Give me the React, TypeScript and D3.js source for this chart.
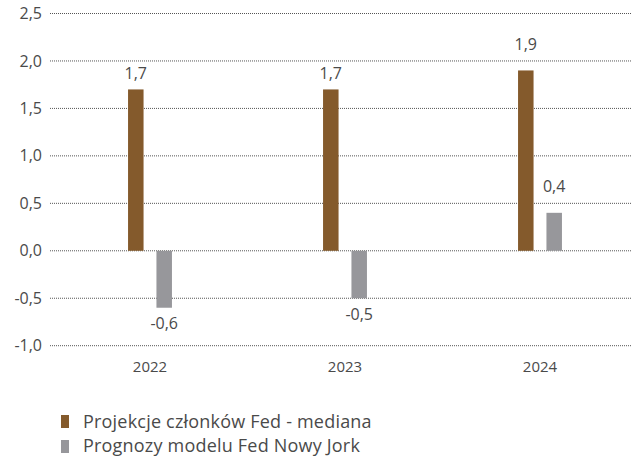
import React from "react";
import * as d3 from "d3";

const years = ["2022", "2023", "2024"];
const fedMedian = [1.7, 1.7, 1.9];
const nyModel = [-0.6, -0.5, 0.4];
const yTicks = [-1.0, -0.5, 0.0, 0.5, 1.0, 1.5, 2.0, 2.5];
const seriesNames = ["Projekcje członków Fed - mediana", "Prognozy modelu Fed Nowy Jork"];
const seriesColors = ["#845a2c", "#97979b"];

const W = 632;
const H = 457;
const fmt = (v: number) => v.toFixed(1).replace(".", ",");

export default function App() {
  const y = d3.scaleLinear().domain([-1, 2.5]).range([345.7, 13.5]);
  const x = d3.scaleBand<string>().domain(years).range([52.5, 637.5]);
  const barW = 15.5;
  const offset = 14.2;
  const font = "'Open Sans', 'Noto Sans', sans-serif";
  const series = [fedMedian, nyModel];

  // keep value labels clear of the dotted gridlines
  const labelY = (v: number) => {
    const dir = v >= 0 ? -1 : 1;
    let ly = y(v) + dir * 16;
    const near = yTicks.map((t) => y(t)).find((g) => Math.abs(g - ly) < 9);
    if (near !== undefined) ly = near + dir * 17;
    return ly;
  };

  return (
    <svg
      width={W}
      height={H}
      style={{ position: "absolute", left: 0, top: 0, background: "#fff" }}
      fontFamily={font}
    >
      {yTicks.map((t) => (
        <g key={t}>
          <line
            x1={50}
            x2={632}
            y1={y(t)}
            y2={y(t)}
            stroke="#555"
            strokeWidth={1}
            strokeDasharray="1 1"
          />
          <text
            x={42}
            y={y(t)}
            dy="0.35em"
            textAnchor="end"
            fontSize={16}
            fill="#4a4a4a"
          >
            {fmt(t)}
          </text>
        </g>
      ))}
      {years.map((yr, i) => {
        const cx = (x(yr) as number) + x.bandwidth() / 2;
        return (
          <g key={yr}>
            {series.map((s, k) => {
              const v = s[i];
              const bx = cx + (k === 0 ? -offset : offset) - barW / 2;
              const top = Math.min(y(v), y(0));
              const h = Math.abs(y(v) - y(0));
              return (
                <g key={k}>
                  <rect x={bx} y={top} width={barW} height={h} fill={seriesColors[k]} />
                  <text
                    x={bx + barW / 2}
                    y={labelY(v)}
                    dy="0.35em"
                    textAnchor="middle"
                    fontSize={16}
                    fill="#4a4a4a"
                  >
                    {fmt(v)}
                  </text>
                </g>
              );
            })}
            <text x={cx} y={367} dy="0.35em" textAnchor="middle" fontSize={15} fill="#4a4a4a">
              {yr}
            </text>
          </g>
        );
      })}
      {seriesNames.map((name, k) => (
        <g key={name}>
          <rect x={61} y={415 + k * 25} width={8} height={13} fill={seriesColors[k]} />
          <text x={83} y={428 + k * 24} fontSize={18} fill="#4a4a4a" letterSpacing={0.2}>
            {name}
          </text>
        </g>
      ))}
    </svg>
  );
}
